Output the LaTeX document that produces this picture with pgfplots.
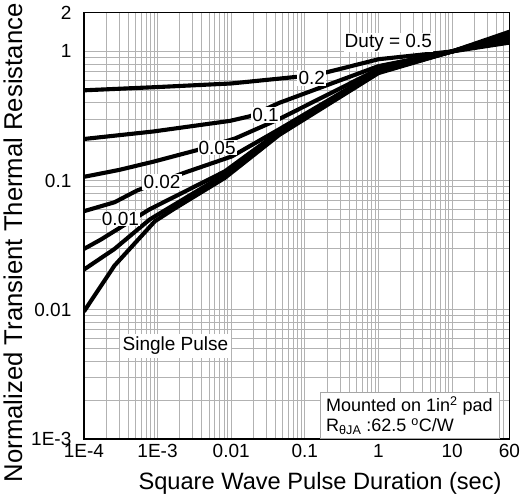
\documentclass[border=0pt]{standalone}
\usepackage{fontspec}
\setmainfont{Liberation Sans}
\usepackage{pgfplots}
\pgfplotsset{compat=1.18}

\begin{document}
\begin{tikzpicture}
\begin{loglogaxis}[
  scale only axis,
  width=414pt, height=415pt,
  xmin=1e-4, xmax=60, ymin=1e-3, ymax=2,
  xtick={1e-4,1e-3,0.01,0.1,1,10,60},
  xticklabels={1E-4,1E-3,0.01,0.1,1,10,60},
  minor xtick={2e-4,3e-4,4e-4,5e-4,6e-4,7e-4,8e-4,9e-4,
               2e-3,3e-3,4e-3,5e-3,6e-3,7e-3,8e-3,9e-3,
               0.02,0.03,0.04,0.05,0.06,0.07,0.08,0.09,
               0.2,0.3,0.4,0.5,0.6,0.7,0.8,0.9,
               2,3,4,5,6,7,8,9,20,30,40,50},
  ytick={1e-3,0.01,0.1,1,2},
  yticklabels={1E-3,0.01,0.1,1,2},
  minor ytick={2e-3,3e-3,4e-3,5e-3,6e-3,7e-3,8e-3,9e-3,
               0.02,0.03,0.04,0.05,0.06,0.07,0.08,0.09,
               0.2,0.3,0.4,0.5,0.6,0.7,0.8,0.9},
  /pgf/number format/assume math mode=true,
  tick label style={font=\fontsize{18.5}{20}\selectfont},
  xticklabel style={inner sep=0pt, anchor=north, yshift=-5pt},
  yticklabel style={inner sep=0pt, anchor=east, xshift=-12pt},
  major tick length=0pt, minor tick length=0pt,
  grid=both,
  major grid style={gray!60, line width=0.8pt},
  minor grid style={gray!60, line width=0.8pt},
  axis line style={black, line width=1.2pt},
  xlabel={Square Wave Pulse Duration (sec)},
  ylabel={Normalized Transient Thermal Resistance},
  xlabel style={font=\fontsize{23}{26}\selectfont, at={(axis description cs:0.555,-0.104)}, anchor=center},
  ylabel style={font=\fontsize{25}{28}\selectfont, at={(axis description cs:-0.167,0.46)}, anchor=center},
  curve/.style={black, line width=4pt, line join=round, mark=none, solid},
]
% Duty = 0.5
\addplot[curve] coordinates {(1e-4,0.50) (1e-3,0.53) (0.01,0.565) (0.1,0.645) (0.2,0.69) (1,0.87) (10,1.0) (60,1.17)};
% 0.2
\addplot[curve] coordinates {(1e-4,0.21) (8.7e-4,0.24) (0.0096,0.29) (0.018,0.315) (0.045,0.40) (1,0.77) (10,1.0) (60,1.22)};
% 0.1
\addplot[curve] coordinates {(1e-4,0.107) (3e-4,0.121) (8.7e-4,0.14) (3.4e-3,0.172) (0.0113,0.212) (0.045,0.30) (1,0.73) (10,1.0) (60,1.27)};
% 0.05
\addplot[curve] coordinates {(1e-4,0.058) (2.6e-4,0.068) (5.3e-4,0.084) (2.3e-3,0.115) (0.0102,0.154) (0.045,0.25) (1,0.71) (10,1.0) (60,1.32)};
% 0.02
\addplot[curve] coordinates {(1e-4,0.0296) (1.7e-4,0.035) (7.8e-4,0.06) (8.2e-3,0.118) (0.045,0.24) (1,0.70) (10,1.0) (60,1.35)};
% 0.01
\addplot[curve] coordinates {(1e-4,0.0205) (2.6e-4,0.0296) (7.8e-4,0.05) (8.2e-3,0.112) (0.045,0.235) (1,0.69) (10,1.0) (60,1.38)};
% single pulse
\addplot[curve] coordinates {(1e-4,0.0097) (2.6e-4,0.022) (9.2e-4,0.0485) (1.64e-3,0.06) (8.2e-3,0.105) (0.045,0.226) (1,0.68) (10,1.0) (60,1.42)};

\begin{scope}[every node/.style={fill=white, inner sep=1pt, font=\fontsize{18.5}{20}\selectfont}]
\node at (axis cs:1.36,1.17) {Duty = 0.5};
\node at (axis cs:0.124,0.625) {0.2};
\node at (axis cs:0.0292,0.323) {0.1};
\node at (axis cs:0.00644,0.18) {0.05};
\node at (axis cs:0.00115,0.098) {0.02};
\node at (axis cs:3.13e-4,0.0508) {0.01};
\node[inner sep=3pt] at (axis cs:1.75e-3,0.00528) {Single Pulse};
\node[draw=gray!70, line width=0.6pt, anchor=south east, align=left, inner sep=4pt, inner xsep=6pt,
      font=\fontsize{17.5}{19}\selectfont]
  at (rel axis cs:0.976,0) {Mounted on 1in\textsuperscript{2} pad\\R\textsubscript{θJA} :62.5 \textsuperscript{o}C/W};
\end{scope}
\end{loglogaxis}
\end{tikzpicture}
\end{document}
